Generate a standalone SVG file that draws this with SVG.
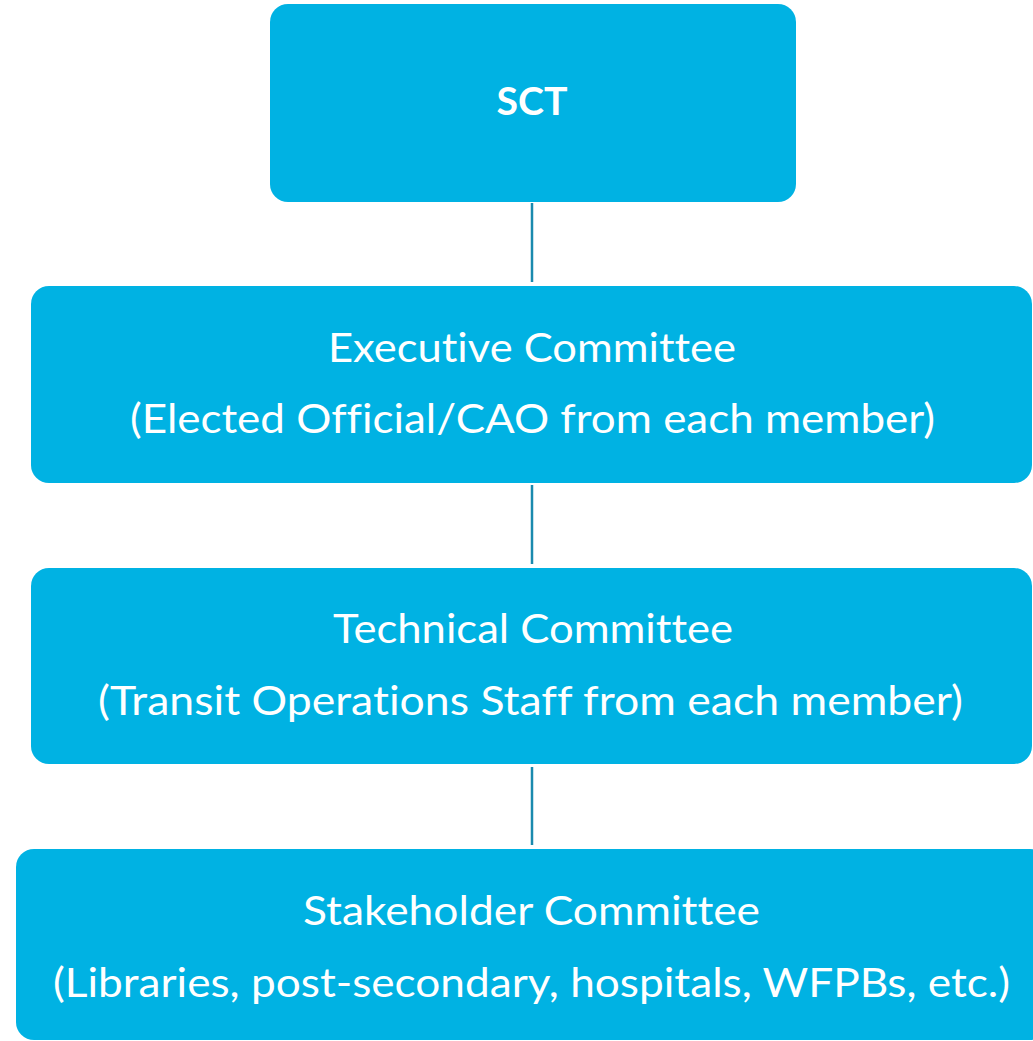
<svg xmlns="http://www.w3.org/2000/svg" width="1033" height="1041" viewBox="0 0 1033 1041">
  <style>
    .box { fill: #00B2E3; }
    .lbl { fill: #FFFFFF; font-family: Lato, "Open Sans", "Liberation Sans", sans-serif; font-size: 40px; text-anchor: middle; font-variant-ligatures: none; font-feature-settings: "liga" 0, "clig" 0; }
    .title { font-weight: bold; font-size: 38px; }
    .conn { stroke: #1A8AAE; stroke-width: 2.5; fill: none; }
  </style>
  <rect width="1033" height="1041" fill="#FFFFFF"/>
  <g id="connectors">
    <line class="conn" x1="532" y1="203" x2="532" y2="282"/>
    <line class="conn" x1="532" y1="485" x2="532" y2="564"/>
    <line class="conn" x1="532" y1="767" x2="532" y2="845"/>
  </g>
  <g id="sct">
    <rect class="box" x="270" y="4" width="526" height="198" rx="18"/>
    <text class="lbl title" x="532" y="115" textLength="71" lengthAdjust="spacingAndGlyphs">SCT</text>
  </g>
  <g id="executive">
    <rect class="box" x="31" y="286" width="1001" height="197" rx="18"/>
    <text class="lbl" x="532" y="362" textLength="408" lengthAdjust="spacingAndGlyphs">Executive Committee</text>
    <text class="lbl" x="532.5" y="433" textLength="805" lengthAdjust="spacingAndGlyphs">(Elected Official/CAO from each member)</text>
  </g>
  <g id="technical">
    <rect class="box" x="31" y="568" width="1001" height="196" rx="18"/>
    <text class="lbl" x="533" y="643" textLength="400" lengthAdjust="spacingAndGlyphs">Technical Committee</text>
    <text class="lbl" x="530.5" y="715" textLength="865" lengthAdjust="spacingAndGlyphs">(Transit Operations Staff from each member)</text>
  </g>
  <g id="stakeholder">
    <rect class="box" x="16" y="849" width="1032" height="191" rx="18"/>
    <text class="lbl" x="531.5" y="925" textLength="457" lengthAdjust="spacingAndGlyphs">Stakeholder Committee</text>
    <text class="lbl" x="531.5" y="997" textLength="957" lengthAdjust="spacingAndGlyphs">(Libraries, post-secondary, hospitals, WFPBs, etc.)</text>
  </g>
</svg>
